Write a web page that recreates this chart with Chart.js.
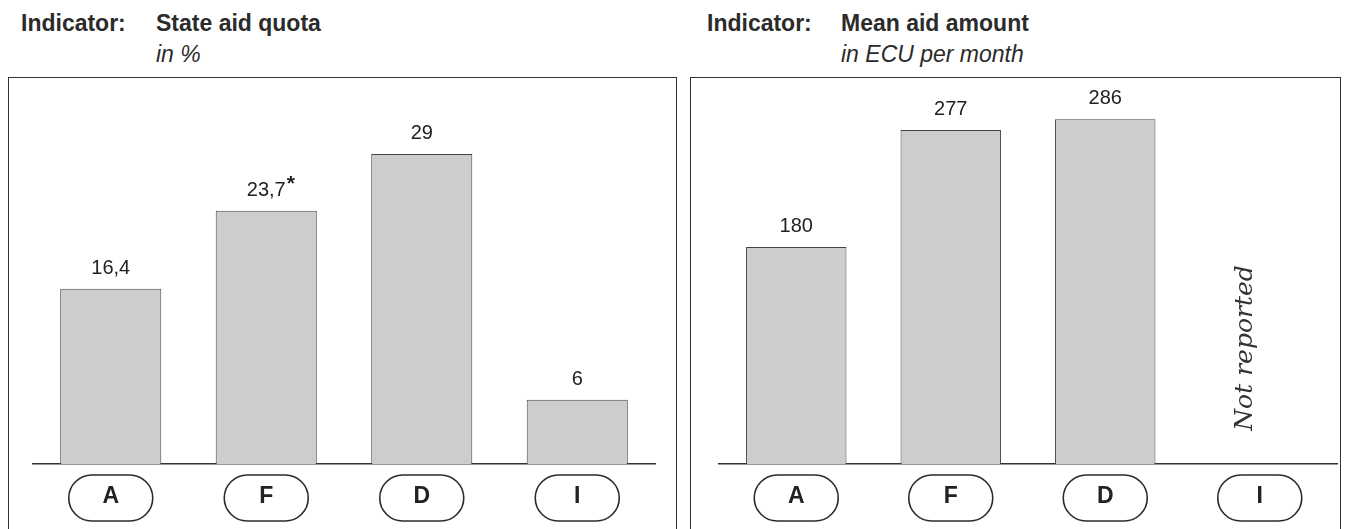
<!DOCTYPE html>
<html>
<head>
<meta charset="utf-8">
<script src="https://cdn.jsdelivr.net/npm/chart.js@4"></script>
<style>
  body { margin: 0; background: #fff; width: 1350px; height: 529px; position: relative; overflow: hidden; font-family: "Liberation Sans", Arial, sans-serif; color: #2b2b2b; }
  .box { position: absolute; top: 77px; height: 470px; border: 1.5px solid #333; box-sizing: border-box; }
  .title { position: absolute; top: 10px; font-size: 23px; line-height: 26px; font-weight: bold; white-space: nowrap; }
  .sub { position: absolute; top: 41px; font-size: 23px; line-height: 26px; font-style: italic; white-space: nowrap; }
  canvas { position: absolute; top: 77px; }
</style>
</head>
<body>
<div class="title" style="left:21px">Indicator:</div>
<div class="title" style="left:156px">State aid quota</div>
<div class="sub" style="left:156px">in %</div>
<div class="title" style="left:707px">Indicator:</div>
<div class="title" style="left:841px">Mean aid amount</div>
<div class="sub" style="left:841px">in ECU per month</div>

<div class="box" style="left:8px; width:669px"></div>
<div class="box" style="left:690px; width:651px"></div>

<canvas id="quotaChart" width="668" height="452" style="left:8px"></canvas>
<canvas id="amountChart" width="650" height="452" style="left:690px"></canvas>

<script>
const countries = ["A", "F", "D", "I"];
const quotaValues = [16.4, 23.7, 29, 6];
const quotaNotes = ["", "*", "", ""];
const amountValues = [180, 277, 286, null];
const amountNotes = ["", "", "", ""];

const fmt = v => String(v).replace(".", ",");

// value labels, "Not reported" and the rounded country badges
const decorations = {
    id: "decorations",
    afterDatasetsDraw(chart) {
        const ctx = chart.ctx;
        const meta = chart.getDatasetMeta(0);
        const values = chart.data.datasets[0].data;
        const notes = chart.options.plugins.decorations.notes;
        const xScale = chart.scales.x;
        const area = chart.chartArea;
        ctx.save();
        values.forEach((v, i) => {
            const x = xScale.getPixelForValue(i);
            if (v === null) {
                ctx.save();
                ctx.translate(x - 14, area.bottom - 116);
                ctx.rotate(-Math.PI / 2);
                ctx.font = "italic 25px 'DejaVu Serif', serif";
                ctx.fillStyle = "#333";
                ctx.textAlign = "center";
                ctx.textBaseline = "middle";
                ctx.fillText("Not reported", 0, 0);
                ctx.restore();
            } else {
                const bar = meta.data[i];
                ctx.font = "20px 'Liberation Sans', Arial, sans-serif";
                ctx.fillStyle = "#222";
                ctx.textAlign = "center";
                ctx.textBaseline = "alphabetic";
                const txt = fmt(v);
                ctx.fillText(txt, x, bar.y - 15);
                if (notes[i]) {
                    const w = ctx.measureText(txt).width;
                    ctx.font = "bold 21px 'Liberation Sans', Arial, sans-serif";
                    ctx.textAlign = "left";
                    ctx.fillText(notes[i], x + w / 2 + 1, bar.y - 21);
                }
            }
            // badge
            const bw = 84, bh = 46, by = area.bottom + 11;
            ctx.beginPath();
            ctx.roundRect(x - bw / 2, by, bw, bh, bh / 2);
            ctx.lineWidth = 1.6;
            ctx.strokeStyle = "#2b2b2b";
            ctx.stroke();
            ctx.font = "bold 23px 'Liberation Sans', Arial, sans-serif";
            ctx.fillStyle = "#222";
            ctx.textAlign = "center";
            ctx.textBaseline = "middle";
            ctx.fillText(countries[i], x, by + bh / 2 - 1);
        });
        ctx.restore();
    }
};

function makeChart(id, values, notes, yMax, padLeft, padRight) {
    return new Chart(document.getElementById(id), {
        type: "bar",
        data: {
            labels: countries,
            datasets: [{
                data: values,
                backgroundColor: "#cdcdcd",
                borderColor: "#444",
                borderWidth: 1,
                borderSkipped: "bottom",
                categoryPercentage: 1,
                barPercentage: 0.65
            }]
        },
        options: {
            responsive: false,
            animation: false,
            layout: { padding: { left: padLeft, right: padRight, top: 0, bottom: 57 } },
            plugins: {
                legend: { display: false },
                tooltip: { enabled: false },
                decorations: { notes: notes }
            },
            scales: {
                x: {
                    grid: { display: false },
                    border: { display: true, color: "#333", width: 1.5 },
                    ticks: { display: false }
                },
                y: {
                    display: false,
                    min: 0,
                    max: yMax
                }
            }
        },
        plugins: [decorations]
    });
}

makeChart("quotaChart", quotaValues, quotaNotes, 36.2, 25, 21);
makeChart("amountChart", amountValues, amountNotes, 321, 29, 3);
</script>
</body>
</html>
